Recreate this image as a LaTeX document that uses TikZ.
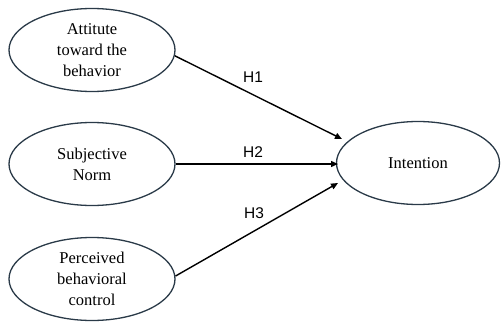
\documentclass[tikz,border=0pt]{standalone}
\usepackage{fontspec}
\setmainfont{Liberation Serif}
\newfontfamily\labelfont{Liberation Sans}
\usetikzlibrary{shapes.geometric,arrows.meta}
\definecolor{ellline}{HTML}{2A3A48}
\begin{document}
\begin{tikzpicture}[x=1pt,y=-1pt,
  construct/.style={ellipse,draw=ellline,line width=1.3pt,minimum width=166pt,minimum height=83pt,inner sep=0pt,align=center,font=\fontsize{16.5}{21}\selectfont},
  path/.style={line width=1.4pt,-{Triangle[length=7pt,width=6pt]}},
  hlabel/.style={font=\labelfont\fontsize{15.5}{18}\selectfont,inner sep=0pt}]
\useasboundingbox (0,0) rectangle (501,324);
\node[construct] (att) at (92,50) {Attitute\\toward the\\behavior};
\node[construct] (sn) at (92,164) {Subjective\\Norm};
\node[construct] (pbc) at (92,279) {Perceived\\behavioral\\control};
\node[construct,minimum width=163pt] (int) at (418,163) {Intention};
\coordinate (t1) at (342,139);
\coordinate (t2) at (338,164);
\coordinate (t3) at (338,183);
\draw[path] (att.-4) -- (t1);
\draw[path] (sn.east) -- (t2);
\draw[path] (pbc.2) -- (t3);
\node[hlabel] (h1) at (253,77) {H1};
\node[hlabel] (h2) at (253,152) {H2};
\node[hlabel] (h3) at (254,213) {H3};
\end{tikzpicture}
\end{document}
